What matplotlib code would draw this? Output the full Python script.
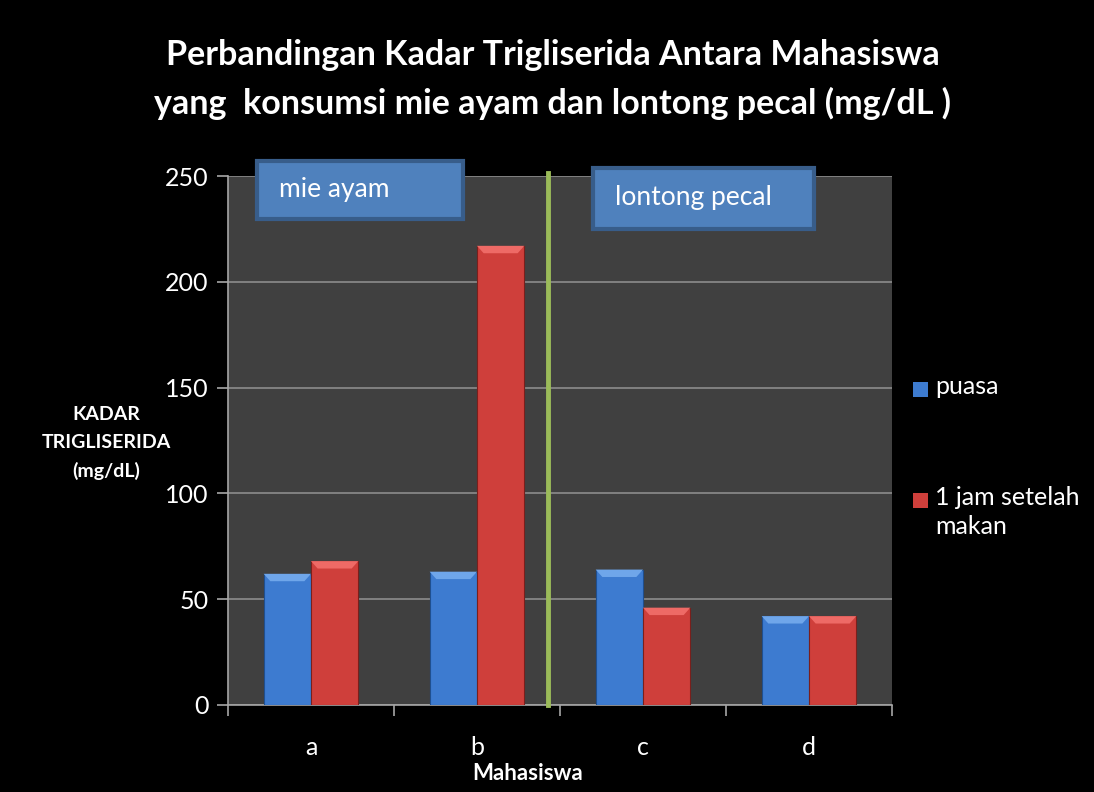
import matplotlib
matplotlib.use("Agg")
import matplotlib.pyplot as plt
from matplotlib.patches import Polygon, Rectangle
import numpy as np

plt.rcParams['font.family'] = ['Lato', 'DejaVu Sans']

mahasiswa = ['a', 'b', 'c', 'd']
puasa = [62, 63, 64, 42]
setelah_makan = [68, 217, 46, 42]
nama_seri = ['puasa', '1 jam setelah\nmakan']

biru = '#3d7bd0'
merah = '#cf3f3b'

W, H = 1094, 792
fig = plt.figure(figsize=(W / 100, H / 100), dpi=100, facecolor='black')
ax = fig.add_axes([228 / W, 1 - 705 / H, 664 / W, 529 / H])
ax.set_facecolor('#404040')

x = np.arange(len(mahasiswa))
lebar = 0.285
b1 = ax.bar(x - lebar / 2, puasa, lebar, color=biru, edgecolor='#1f4f8f', linewidth=0.8, zorder=3)
b2 = ax.bar(x + lebar / 2, setelah_makan, lebar, color=merah, edgecolor='#7a1f1c', linewidth=0.8, zorder=3)


def bevel(bars, terang):
    # sedikit efek 3D di atas batang
    for p in bars:
        x0, y0 = p.get_x(), p.get_y() + p.get_height()
        w = p.get_width()
        d = 0.04
        h = 3.5
        pol = Polygon([[x0, y0], [x0 + w, y0], [x0 + w - d, y0 - h], [x0 + d, y0 - h]],
                      closed=True, color=terang, zorder=4, lw=0)
        ax.add_patch(pol)


bevel(b1, '#6fa6ea')
bevel(b2, '#ee6a66')

ax.set_ylim(0, 250)
ax.set_xlim(-0.5, 3.5)
ax.set_yticks([0, 50, 100, 150, 200, 250])
ax.grid(axis='y', color='#8c8c8c', linewidth=1.2, zorder=0)
ax.set_xticks(x)
ax.set_xticklabels(mahasiswa)
ax.set_xticks(np.arange(-0.5, 4, 1), minor=True)
ax.tick_params(axis='x', which='major', length=0, colors='white', labelsize=18, pad=22)
ax.tick_params(axis='x', which='minor', length=8, color='#a6a6a6', width=1.2)
ax.tick_params(axis='y', length=8, color='#a6a6a6', width=1.2, colors='white', labelsize=18, pad=6)
for s in ['top', 'right']:
    ax.spines[s].set_visible(False)
for s in ['left', 'bottom']:
    ax.spines[s].set_color('#a6a6a6')
    ax.spines[s].set_linewidth(1.2)

# garis pemisah
ax.plot([1.43, 1.43], [0, 251.5], color='#9bbb59', linewidth=3.5, zorder=5, clip_on=False)

# kotak label
for (x0, y0, x1, y1), teks, ty in [((257, 161, 463, 219), 'mie ayam', 190),
                                   ((593, 168, 814, 229), 'lontong pecal', 198)]:
    fig.patches.append(Rectangle((x0 / W, 1 - y1 / H), (x1 - x0) / W, (y1 - y0) / H,
                                 transform=fig.transFigure, facecolor='#4f81bd',
                                 edgecolor='#385d8a', linewidth=3, zorder=6))
    fig.text((x0 + 22) / W, 1 - ty / H, teks, color='white', fontsize=19, ha='left',
             va='center', zorder=7)

fig.text(553 / W, 1 - 55 / H, 'Perbandingan Kadar Trigliserida Antara Mahasiswa',
         color='white', fontsize=24.5, fontweight='bold', ha='center', va='center')
fig.text(553 / W, 1 - 103 / H, 'yang  konsumsi mie ayam dan lontong pecal (mg/dL )',
         color='white', fontsize=24.5, fontweight='bold', ha='center', va='center')
fig.text(106 / W, 1 - 443 / H, 'KADAR\nTRIGLISERIDA\n(mg/dL)', color='white', fontsize=14,
         fontweight='bold', ha='center', va='center', linespacing=1.75)
fig.text(528 / W, 1 - 774 / H, 'Mahasiswa', color='white', fontsize=16,
         fontweight='bold', ha='center', va='center')

# legenda
leg = [(390, biru), (501, merah)]
for (yy, c), nama in zip(leg, nama_seri):
    fig.patches.append(Rectangle((913 / W, 1 - (yy + 7) / H), 15 / W, 15 / H,
                                 transform=fig.transFigure, facecolor=c, edgecolor='none'))
    fig.text(935 / W, 1 - (yy - 15) / H, nama, color='white', fontsize=18, ha='left', va='top',
             linespacing=1.3)

fig.savefig('out.png', dpi=100, facecolor='black')
